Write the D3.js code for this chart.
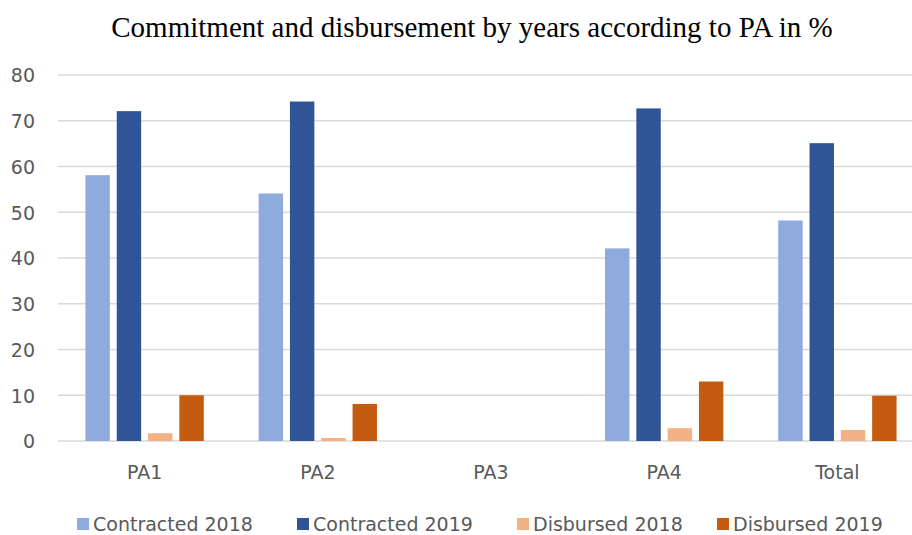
<!DOCTYPE html>
<html>
<head>
<meta charset="utf-8">
<script src="https://cdn.jsdelivr.net/npm/d3@7"></script>
<style>
  html, body { margin: 0; padding: 0; background: #fff; }
  svg { display: block; }
</style>
</head>
<body>
<svg id="chart" width="912" height="535"></svg>
<script>
// Priority areas on the x axis
const categories = ["PA1", "PA2", "PA3", "PA4", "Total"];
// Series names (legend order)
const seriesNames = ["Contracted 2018", "Contracted 2019", "Disbursed 2018", "Disbursed 2019"];
// Values in % per series, aligned with categories (PA3 has no data)
const contracted2018 = [58.1, 54.1, 0, 42.1, 48.2];
const contracted2019 = [72.1, 74.2, 0, 72.7, 65.1];
const disbursed2018  = [1.7, 0.65, 0, 2.8, 2.4];
const disbursed2019  = [10.0, 8.1, 0, 13.0, 9.9];
const seriesColors = ["#8FAADC", "#2F5597", "#F4B183", "#C55A11"];
const yTicks = [0, 10, 20, 30, 40, 50, 60, 70, 80];

const seriesValues = [contracted2018, contracted2019, disbursed2018, disbursed2019];

const svg = d3.select("#chart");
const W = 912, H = 535;
const plotLeft = 58, plotRight = 924, plotTop = 75, plotBottom = 441;

const x0 = d3.scaleBand().domain(categories).range([plotLeft, plotRight])
  .paddingInner(0.277).paddingOuter(0.1385);
const x1 = d3.scaleBand().domain(seriesNames).range([0, x0.bandwidth()])
  .paddingInner(0.22).paddingOuter(0.11);
const y = d3.scaleLinear().domain([0, 80]).range([plotBottom, plotTop]);

const font = "'DejaVu Sans', sans-serif";
const labelColor = "#595959";

// Title
svg.append("text")
  .attr("x", 472).attr("y", 37)
  .attr("text-anchor", "middle")
  .attr("font-family", "'Liberation Serif', 'Times New Roman', serif")
  .attr("font-size", 29)
  .attr("fill", "#000")
  .text("Commitment and disbursement by years according to PA in %");

// Gridlines
const grid = svg.append("g");
grid.selectAll("line").data(yTicks).join("line")
  .attr("x1", plotLeft).attr("x2", W)
  .attr("y1", d => y(d)).attr("y2", d => y(d))
  .attr("stroke", "#D9D9D9").attr("stroke-width", 1.5);

// Y axis labels
const yAxis = d3.axisLeft(y).tickValues(yTicks).tickSize(0).tickPadding(0);
const yg = svg.append("g").attr("transform", `translate(35,0)`).call(yAxis);
yg.select(".domain").remove();
yg.selectAll("text")
  .attr("font-family", font).attr("font-size", 19).attr("fill", labelColor)
  .attr("dy", "0.36em");

// X axis labels
const xAxis = d3.axisBottom(x0).tickSize(0).tickPadding(0);
const xg = svg.append("g").attr("transform", `translate(0,${plotBottom + 31})`).call(xAxis);
xg.select(".domain").remove();
xg.selectAll("text")
  .attr("font-family", font).attr("font-size", 19).attr("fill", labelColor)
  .attr("dy", "0.36em");

// Bars
const groups = svg.append("g").selectAll("g").data(categories).join("g")
  .attr("transform", c => `translate(${x0(c)},0)`);
groups.selectAll("rect")
  .data((c, i) => seriesNames.map((s, j) => ({ s, j, v: seriesValues[j][i] })))
  .join("rect")
  .attr("x", d => x1(d.s))
  .attr("width", x1.bandwidth())
  .attr("y", d => y(d.v))
  .attr("height", d => plotBottom - y(d.v))
  .attr("fill", d => seriesColors[d.j])
  .attr("display", d => d.v > 0 ? null : "none");

// Legend
const legendX = [77, 297, 517, 717];
const legend = svg.append("g").selectAll("g").data(seriesNames).join("g")
  .attr("transform", (d, i) => `translate(${legendX[i]},${524})`);
legend.append("rect")
  .attr("x", 0).attr("y", -6).attr("width", 12).attr("height", 12)
  .attr("fill", (d, i) => seriesColors[i]);
legend.append("text")
  .attr("x", 16).attr("y", 0).attr("dy", "0.36em")
  .attr("font-family", font).attr("font-size", 19).attr("fill", labelColor)
  .text(d => d);
</script>
</body>
</html>
